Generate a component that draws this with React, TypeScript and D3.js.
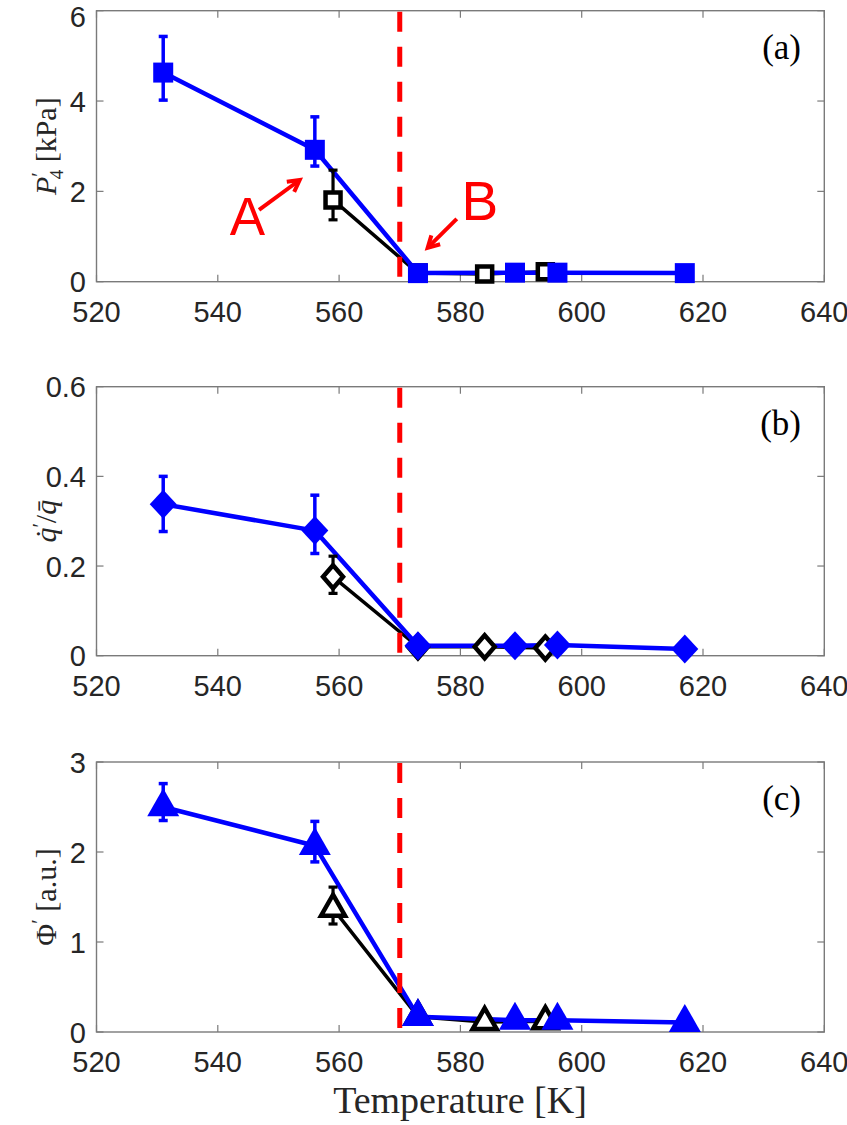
import React from "react";
import * as d3 from "d3";

// Temperatures [K]
const blueT = [531, 556, 573, 589, 596, 617];
const blackT = [559, 573, 584, 594];

// (a) P'_4 [kPa]
const blueP = [4.63, 2.92, 0.19, 0.2, 0.2, 0.19];
const bluePLo = [4.02, 2.56, 0.15, 0.16, 0.16, 0.15];
const bluePHi = [5.43, 3.65, 0.23, 0.24, 0.24, 0.23];
const blackP = [1.81, 0.19, 0.17, 0.22];
const blackPLo = [1.37, 0.15, 0.13, 0.18];
const blackPHi = [2.47, 0.23, 0.21, 0.26];

// (b) q'/q
const blueQ = [0.338, 0.279, 0.022, 0.022, 0.024, 0.015];
const blueQLo = [0.277, 0.228, 0.015, 0.015, 0.017, 0.01];
const blueQHi = [0.4, 0.358, 0.029, 0.029, 0.031, 0.02];
const blackQ = [0.176, 0.02, 0.02, 0.017];
const blackQLo = [0.139, 0.014, 0.014, 0.011];
const blackQHi = [0.222, 0.026, 0.026, 0.023];

// (c) Phi' [a.u.]
const bluePhi = [2.5, 2.07, 0.17, 0.13, 0.13, 0.105];
const bluePhiLo = [2.35, 1.89, 0.14, 0.1, 0.1, 0.08];
const bluePhiHi = [2.76, 2.34, 0.2, 0.16, 0.16, 0.13];
const blackPhi = [1.37, 0.17, 0.11, 0.12];
const blackPhiLo = [1.2, 0.14, 0.08, 0.09];
const blackPhiHi = [1.61, 0.2, 0.14, 0.15];

const xTicks = [520, 540, 560, 580, 600, 620, 640];
const criticalT = 570;

const BLUE = "#0000ff";
const RED = "#ff0000";
const AXIS = "#7a7a7a";
const TICKTXT = "#262626";
const SANS = "'Liberation Sans', Arial, Helvetica, sans-serif";
const SERIF = "'Liberation Serif', 'Times New Roman', serif";

type MarkerKind = "square" | "diamond" | "triangle";

// blue markers are filled, black ones open (stroke thickness added outside)
function markerPath(kind: MarkerKind, filled: boolean): string {
  if (kind === "square") {
    const s = filled ? 10 : 7.5;
    return `M${-s},${-s}H${s}V${s}H${-s}Z`;
  }
  if (kind === "diamond") {
    const w = filled ? 13.5 : 10;
    const h = filled ? 14.5 : 11.5;
    return `M0,${-h}L${w},0L0,${h}L${-w},0Z`;
  }
  const w = filled ? 16 : 12;
  const h = filled ? 28 : 21;
  return `M0,${(-2 * h) / 3}L${w},${h / 3}L${-w},${h / 3}Z`;
}

interface PanelProps {
  top: number;
  bottom: number;
  yMax: number;
  yTicks: number[];
  yFmt: (v: number) => string;
  kind: MarkerKind;
  blue: number[];
  blueLo: number[];
  blueHi: number[];
  black: number[];
  blackLo: number[];
  blackHi: number[];
  tag: string;
  yLabel: React.ReactNode;
  annotate?: boolean;
}

const x = d3.scaleLinear().domain([520, 640]).range([96.5, 824.3]);

function Panel(p: PanelProps) {
  const y = d3.scaleLinear().domain([0, p.yMax]).range([p.bottom, p.top]);
  const [x0, x1] = x.range();
  const path = (ts: number[], vs: number[]) =>
    d3.line<number>().x((t) => x(t)).y((_, i) => y(vs[i]))(ts) || "";
  const tl = 7;
  const errBars = (ts: number[], lo: number[], hi: number[], color: string, w: number) =>
    ts.map((t, i) => (
      <g key={i} stroke={color} strokeWidth={w}>
        <line x1={x(t)} x2={x(t)} y1={y(lo[i])} y2={y(hi[i])} />
        <line x1={x(t) - 4.5} x2={x(t) + 4.5} y1={y(lo[i])} y2={y(lo[i])} />
        <line x1={x(t) - 4.5} x2={x(t) + 4.5} y1={y(hi[i])} y2={y(hi[i])} />
      </g>
    ));
  return (
    <g>
      {/* frame */}
      <rect x={x0} y={p.top} width={x1 - x0} height={p.bottom - p.top} fill="none" stroke={AXIS} strokeWidth={1.4} />
      {xTicks.map((t) => (
        <g key={t}>
          <line x1={x(t)} x2={x(t)} y1={p.bottom} y2={p.bottom - tl} stroke={AXIS} strokeWidth={1.2} />
          <line x1={x(t)} x2={x(t)} y1={p.top} y2={p.top + tl} stroke={AXIS} strokeWidth={1.2} />
          <text x={x(t)} y={p.bottom + 40} textAnchor="middle" fontFamily={SANS} fontSize={29} fill={TICKTXT}>
            {t}
          </text>
        </g>
      ))}
      {p.yTicks.map((v) => (
        <g key={v}>
          <line x1={x0} x2={x0 + tl} y1={y(v)} y2={y(v)} stroke={AXIS} strokeWidth={1.2} />
          <line x1={x1} x2={x1 - tl} y1={y(v)} y2={y(v)} stroke={AXIS} strokeWidth={1.2} />
          <text x={86} y={Math.max(y(v) + 10.5, 27)} textAnchor="end" fontFamily={SANS} fontSize={29} fill={TICKTXT}>
            {p.yFmt(v)}
          </text>
        </g>
      ))}
      {/* series lines */}
      <path d={path(blackT, p.black)} fill="none" stroke="#000" strokeWidth={3.5} strokeLinejoin="round" />
      <path d={path(blueT, p.blue)} fill="none" stroke={BLUE} strokeWidth={4.5} strokeLinejoin="round" />
      {/* critical temperature */}
      <line
        x1={x(criticalT)}
        x2={x(criticalT)}
        y1={p.top + 1}
        y2={p.bottom}
        stroke={RED}
        strokeWidth={5}
        strokeDasharray="20,15"
      />
      {errBars(blackT, p.blackLo, p.blackHi, "#000", 3.2)}
      {blackT.map((t, i) => (
        <path
          key={i}
          d={markerPath(p.kind, false)}
          transform={`translate(${x(t)},${y(p.black[i])})`}
          fill="#fff"
          stroke="#000"
          strokeWidth={4.5}
          strokeLinejoin="miter"
        />
      ))}
      {errBars(blueT, p.blueLo, p.blueHi, BLUE, 3.5)}
      {blueT.map((t, i) => (
        <path key={i} d={markerPath(p.kind, true)} transform={`translate(${x(t)},${y(p.blue[i])})`} fill={BLUE} />
      ))}
      <text x={801} y={p.top + 48} textAnchor="end" fontFamily={SERIF} fontSize={35} fill="#000">
        {p.tag}
      </text>
      <text
        transform={`translate(56,${(p.top + p.bottom) / 2}) rotate(-90)`}
        textAnchor="middle"
        fontFamily={SERIF}
        fontSize={30}
        fill={TICKTXT}
      >
        {p.yLabel}
      </text>
      {p.annotate && (
        <g stroke={RED} strokeWidth={4} fill="none" strokeLinecap="butt">
          <Arrow x1={x(546.8)} y1={y(1.59)} x2={x(553.5)} y2={y(2.25)} />
          <Arrow x1={x(579.4)} y1={y(1.39)} x2={x(574.6)} y2={y(0.75)} />
          <text x={x(544.9)} y={y(1.03)} textAnchor="middle" fontFamily={SANS} fontSize={53} fill={RED} stroke="none">
            A
          </text>
          <text x={x(583.2)} y={y(1.37)} textAnchor="middle" fontFamily={SANS} fontSize={55} fill={RED} stroke="none">
            B
          </text>
        </g>
      )}
    </g>
  );
}

function Arrow({ x1, y1, x2, y2 }: { x1: number; y1: number; x2: number; y2: number }) {
  const a = Math.atan2(y2 - y1, x2 - x1);
  const len = 13;
  const spread = 0.5;
  const p1 = [x2 - len * Math.cos(a - spread), y2 - len * Math.sin(a - spread)];
  const p2 = [x2 - len * Math.cos(a + spread), y2 - len * Math.sin(a + spread)];
  return (
    <g>
      <line x1={x1} y1={y1} x2={x2 - 2 * Math.cos(a)} y2={y2 - 2 * Math.sin(a)} />
      <path d={`M${p1[0]},${p1[1]}L${x2},${y2}L${p2[0]},${p2[1]}`} strokeLinejoin="miter" />
    </g>
  );
}

export default function App() {
  return (
    <svg
      width={847}
      height={1125}
      style={{ position: "absolute", left: 0, top: 0, background: "#fff" }}
    >
      <Panel
        top={10.7}
        bottom={281.7}
        yMax={6}
        yTicks={[0, 2, 4, 6]}
        yFmt={(v) => String(v)}
        kind="square"
        blue={blueP}
        blueLo={bluePLo}
        blueHi={bluePHi}
        black={blackP}
        blackLo={blackPLo}
        blackHi={blackPHi}
        tag="(a)"
        annotate
        yLabel={
          <>
            <tspan fontStyle="italic">P</tspan>
            <tspan dy={-10} fontSize={20}>′</tspan>
            <tspan dx={-7} dy={17} fontSize={19}>4</tspan>
            <tspan dy={-7}> [kPa]</tspan>
          </>
        }
      />
      <Panel
        top={386.7}
        bottom={655.7}
        yMax={0.6}
        yTicks={[0, 0.2, 0.4, 0.6]}
        yFmt={(v) => (v === 0 ? "0" : v.toFixed(1))}
        kind="diamond"
        blue={blueQ}
        blueLo={blueQLo}
        blueHi={blueQHi}
        black={blackQ}
        blackLo={blackQLo}
        blackHi={blackQHi}
        tag="(b)"
        yLabel={
          <>
            <tspan fontStyle="italic">q̇</tspan>
            <tspan dy={-9} fontSize={20}>′</tspan>
            <tspan dy={9}>/</tspan>
            <tspan fontStyle="italic">q̄</tspan>
          </>
        }
      />
      <Panel
        top={762}
        bottom={1032}
        yMax={3}
        yTicks={[0, 1, 2, 3]}
        yFmt={(v) => String(v)}
        kind="triangle"
        blue={bluePhi}
        blueLo={bluePhiLo}
        blueHi={bluePhiHi}
        black={blackPhi}
        blackLo={blackPhiLo}
        blackHi={blackPhiHi}
        tag="(c)"
        yLabel={
          <>
            <tspan>Φ</tspan>
            <tspan dy={-10} fontSize={21}>′</tspan>
            <tspan dy={10}> [a.u.]</tspan>
          </>
        }
      />
      <text x={460} y={1113} textAnchor="middle" fontFamily={SERIF} fontSize={38} fill={TICKTXT}>
        Temperature [K]
      </text>
    </svg>
  );
}
